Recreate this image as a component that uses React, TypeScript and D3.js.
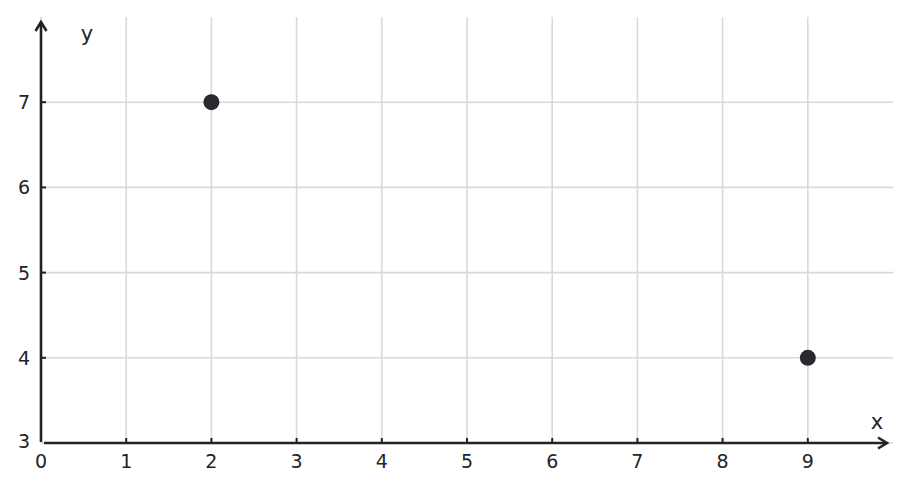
import * as d3 from 'd3';
import React from 'react';

const xTicks = [0, 1, 2, 3, 4, 5, 6, 7, 8, 9];
const yTicks = [3, 4, 5, 6, 7];
const pointX = [2, 9];
const pointY = [7, 4];

export default function App() {
  const svgRef = React.useRef<SVGSVGElement>(null);

  React.useEffect(() => {
    if (svgRef.current == null) {
      return;
    }
    const w = 910;
    const h = 491;
    const svg = d3.select(svgRef.current);
    svg.selectAll('*').remove();

    const xScale = d3.scaleLinear().domain([0, 10]).range([41, 893]);
    const yScale = d3.scaleLinear().domain([3, 8]).range([443, 17]);

    const axisColor = '#222326';
    const gridColor = '#d9d9d9';
    const font = '19px "DejaVu Sans"';

    // grid
    for (const t of xTicks) {
      svg
        .append('line')
        .attr('x1', xScale(t))
        .attr('x2', xScale(t))
        .attr('y1', yScale(3))
        .attr('y2', yScale(8))
        .attr('stroke', gridColor)
        .attr('stroke-width', 1.6);
    }
    for (const t of yTicks) {
      svg
        .append('line')
        .attr('x1', xScale(0))
        .attr('x2', xScale(10))
        .attr('y1', yScale(t))
        .attr('y2', yScale(t))
        .attr('stroke', gridColor)
        .attr('stroke-width', 1.6);
    }

    // axes
    const x0 = xScale(0);
    const y0 = yScale(3);
    const xEnd = 887;
    const yEnd = 22;
    svg
      .append('line')
      .attr('x1', x0 + 3)
      .attr('x2', xEnd)
      .attr('y1', y0)
      .attr('y2', y0)
      .attr('stroke', axisColor)
      .attr('stroke-width', 2.6);
    svg
      .append('line')
      .attr('x1', x0)
      .attr('x2', x0)
      .attr('y1', y0 - 1)
      .attr('y2', yEnd)
      .attr('stroke', axisColor)
      .attr('stroke-width', 2.6);
    svg
      .append('path')
      .attr('d', `M${xEnd - 9},${y0 - 5.5}L${xEnd},${y0}L${xEnd - 9},${y0 + 5.5}`)
      .attr('fill', 'none')
      .attr('stroke', axisColor)
      .attr('stroke-width', 2.6);
    svg
      .append('path')
      .attr('d', `M${x0 - 5.5},${yEnd + 9}L${x0},${yEnd}L${x0 + 5.5},${yEnd + 9}`)
      .attr('fill', 'none')
      .attr('stroke', axisColor)
      .attr('stroke-width', 2.6);

    // ticks and labels
    for (const t of xTicks) {
      if (t > 0) {
        svg
          .append('line')
          .attr('x1', xScale(t))
          .attr('x2', xScale(t))
          .attr('y1', y0)
          .attr('y2', y0 - 5)
          .attr('stroke', axisColor)
          .attr('stroke-width', 2);
      }
      svg
        .append('text')
        .style('font', font)
        .attr('fill', axisColor)
        .attr('text-anchor', 'middle')
        .attr('x', xScale(t))
        .attr('y', 468)
        .text(t);
    }
    for (const t of yTicks) {
      if (t > 3) {
        svg
          .append('line')
          .attr('x1', x0)
          .attr('x2', x0 + 5)
          .attr('y1', yScale(t))
          .attr('y2', yScale(t))
          .attr('stroke', axisColor)
          .attr('stroke-width', 2);
      }
      svg
        .append('text')
        .style('font', font)
        .attr('fill', axisColor)
        .attr('text-anchor', 'middle')
        .attr('x', 24)
        .attr('y', yScale(t) + (t === 3 ? 4.5 : 7))
        .text(t);
    }

    svg
      .append('text')
      .style('font', '21px "DejaVu Sans"')
      .attr('fill', axisColor)
      .attr('text-anchor', 'middle')
      .attr('x', 87)
      .attr('y', 41)
      .text('y');
    svg
      .append('text')
      .style('font', '21px "DejaVu Sans"')
      .attr('fill', axisColor)
      .attr('text-anchor', 'middle')
      .attr('x', 877)
      .attr('y', 429)
      .text('x');

    // points
    pointX.forEach((px, i) => {
      svg
        .append('circle')
        .attr('cx', xScale(px))
        .attr('cy', yScale(pointY[i]))
        .attr('r', 8)
        .attr('fill', '#2a2a2e');
    });

    svg.attr('width', w).attr('height', h);
  }, []);

  return (
    <svg
      ref={svgRef}
      width={910}
      height={491}
      style={{ position: 'absolute', left: 0, top: 0, background: '#fff' }}
    ></svg>
  );
}
